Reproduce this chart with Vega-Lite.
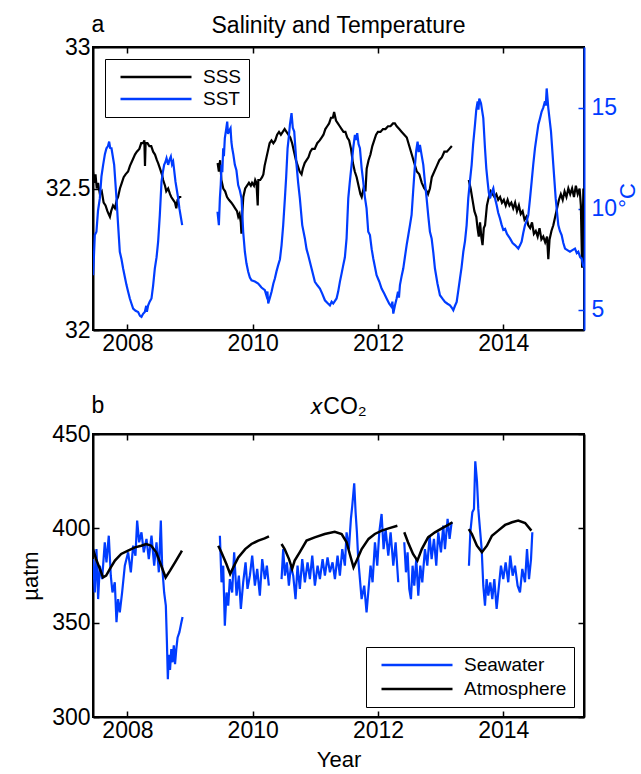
{
  "$schema": "https://vega.github.io/schema/vega-lite/v6.json",
  "background": "white",
  "padding": {"left": 18, "top": 12, "right": 5, "bottom": 0},
  "config": {
    "font": "Liberation Sans",
    "view": {"stroke": "black", "strokeWidth": 2},
    "axis": {"labelFont": "Liberation Sans", "labelFontSize": 23, "labelColor": "black", "domainColor": "black", "domainWidth": 2, "tickColor": "black", "tickWidth": 1.5, "tickSize": -6, "grid": false, "titleFont": "Liberation Sans", "titleFontSize": 22, "titleFontWeight": "normal", "titleColor": "black", "labelPadding": 8},
    "title": {"font": "Liberation Sans", "fontSize": 23, "fontWeight": "normal", "color": "black"},
    "legend": {"labelFont": "Liberation Sans", "labelFontSize": 19, "labelColor": "black"},
    "concat": {"spacing": 37}
  },
  "datasets": {
    "sss": [
      {"g":1,"t":2007.45,"v":32.56},{"g":1,"t":2007.47,"v":32.52},{"g":1,"t":2007.49,"v":32.55},{"g":1,"t":2007.51,"v":32.50},{"g":1,"t":2007.53,"v":32.52},{"g":1,"t":2007.56,"v":32.48},{"g":1,"t":2007.59,"v":32.49},{"g":1,"t":2007.62,"v":32.45},{"g":1,"t":2007.65,"v":32.44},{"g":1,"t":2007.68,"v":32.42},{"g":1,"t":2007.70,"v":32.41},{"g":1,"t":2007.72,"v":32.40},{"g":1,"t":2007.74,"v":32.42},{"g":1,"t":2007.77,"v":32.44},{"g":1,"t":2007.80,"v":32.43},{"g":1,"t":2007.83,"v":32.46},{"g":1,"t":2007.85,"v":32.47},{"g":1,"t":2007.88,"v":32.50},{"g":1,"t":2007.91,"v":32.52},{"g":1,"t":2007.94,"v":32.54},{"g":1,"t":2007.97,"v":32.55},{"g":1,"t":2008.01,"v":32.56},{"g":1,"t":2008.04,"v":32.58},{"g":1,"t":2008.08,"v":32.60},{"g":1,"t":2008.12,"v":32.62},{"g":1,"t":2008.15,"v":32.63},{"g":1,"t":2008.19,"v":32.64},{"g":1,"t":2008.22,"v":32.66},{"g":1,"t":2008.25,"v":32.66},{"g":1,"t":2008.27,"v":32.67},{"g":1,"t":2008.28,"v":32.58},{"g":1,"t":2008.29,"v":32.66},{"g":1,"t":2008.32,"v":32.66},{"g":1,"t":2008.35,"v":32.65},{"g":1,"t":2008.38,"v":32.65},{"g":1,"t":2008.41,"v":32.63},{"g":1,"t":2008.44,"v":32.62},{"g":1,"t":2008.47,"v":32.60},{"g":1,"t":2008.49,"v":32.59},{"g":1,"t":2008.52,"v":32.57},{"g":1,"t":2008.55,"v":32.55},{"g":1,"t":2008.57,"v":32.53},{"g":1,"t":2008.60,"v":32.51},{"g":1,"t":2008.62,"v":32.49},{"g":1,"t":2008.65,"v":32.50},{"g":1,"t":2008.68,"v":32.48},{"g":1,"t":2008.70,"v":32.47},{"g":1,"t":2008.73,"v":32.46},{"g":1,"t":2008.76,"v":32.45},{"g":1,"t":2008.78,"v":32.43},{"g":1,"t":2008.80,"v":32.46},{"g":1,"t":2008.83,"v":32.47},{"g":1,"t":2008.86,"v":32.47},
      {"g":2,"t":2009.44,"v":32.59},{"g":2,"t":2009.46,"v":32.56},{"g":2,"t":2009.48,"v":32.60},{"g":2,"t":2009.50,"v":32.53},{"g":2,"t":2009.53,"v":32.50},{"g":2,"t":2009.56,"v":32.49},{"g":2,"t":2009.59,"v":32.47},{"g":2,"t":2009.62,"v":32.46},{"g":2,"t":2009.66,"v":32.45},{"g":2,"t":2009.69,"v":32.44},{"g":2,"t":2009.72,"v":32.43},{"g":2,"t":2009.75,"v":32.42},{"g":2,"t":2009.77,"v":32.40},{"g":2,"t":2009.79,"v":32.41},{"g":2,"t":2009.81,"v":32.38},{"g":2,"t":2009.82,"v":32.34},{"g":2,"t":2009.83,"v":32.40},{"g":2,"t":2009.85,"v":32.47},{"g":2,"t":2009.88,"v":32.50},{"g":2,"t":2009.91,"v":32.51},{"g":2,"t":2009.94,"v":32.52},{"g":2,"t":2009.97,"v":32.51},{"g":2,"t":2009.99,"v":32.52},{"g":2,"t":2010.02,"v":32.51},{"g":2,"t":2010.04,"v":32.53},{"g":2,"t":2010.06,"v":32.52},{"g":2,"t":2010.08,"v":32.44},{"g":2,"t":2010.09,"v":32.53},{"g":2,"t":2010.12,"v":32.53},{"g":2,"t":2010.15,"v":32.54},{"g":2,"t":2010.17,"v":32.55},{"g":2,"t":2010.19,"v":32.58},{"g":2,"t":2010.22,"v":32.61},{"g":2,"t":2010.25,"v":32.64},{"g":2,"t":2010.27,"v":32.66},{"g":2,"t":2010.30,"v":32.67},{"g":2,"t":2010.33,"v":32.66},{"g":2,"t":2010.36,"v":32.67},{"g":2,"t":2010.39,"v":32.69},{"g":2,"t":2010.42,"v":32.70},{"g":2,"t":2010.45,"v":32.69},{"g":2,"t":2010.48,"v":32.70},{"g":2,"t":2010.51,"v":32.71},{"g":2,"t":2010.54,"v":32.70},{"g":2,"t":2010.57,"v":32.69},{"g":2,"t":2010.60,"v":32.68},{"g":2,"t":2010.63,"v":32.66},{"g":2,"t":2010.66,"v":32.63},{"g":2,"t":2010.69,"v":32.60},{"g":2,"t":2010.72,"v":32.58},{"g":2,"t":2010.75,"v":32.56},{"g":2,"t":2010.78,"v":32.55},{"g":2,"t":2010.80,"v":32.57},{"g":2,"t":2010.83,"v":32.59},{"g":2,"t":2010.86,"v":32.60},{"g":2,"t":2010.89,"v":32.61},{"g":2,"t":2010.92,"v":32.63},{"g":2,"t":2010.95,"v":32.64},{"g":2,"t":2010.99,"v":32.64},{"g":2,"t":2011.03,"v":32.66},{"g":2,"t":2011.07,"v":32.67},{"g":2,"t":2011.10,"v":32.68},{"g":2,"t":2011.13,"v":32.69},{"g":2,"t":2011.16,"v":32.71},{"g":2,"t":2011.19,"v":32.72},{"g":2,"t":2011.22,"v":32.73},{"g":2,"t":2011.25,"v":32.75},{"g":2,"t":2011.28,"v":32.75},{"g":2,"t":2011.30,"v":32.77},{"g":2,"t":2011.33,"v":32.74},{"g":2,"t":2011.36,"v":32.73},{"g":2,"t":2011.39,"v":32.72},{"g":2,"t":2011.42,"v":32.71},{"g":2,"t":2011.45,"v":32.70},{"g":2,"t":2011.48,"v":32.70},{"g":2,"t":2011.51,"v":32.68},{"g":2,"t":2011.54,"v":32.67},{"g":2,"t":2011.57,"v":32.64},{"g":2,"t":2011.60,"v":32.59},{"g":2,"t":2011.63,"v":32.56},{"g":2,"t":2011.66,"v":32.54},{"g":2,"t":2011.69,"v":32.51},{"g":2,"t":2011.72,"v":32.48},{"g":2,"t":2011.74,"v":32.47},{"g":2,"t":2011.76,"v":32.49},{"g":2,"t":2011.78,"v":32.51},{"g":2,"t":2011.80,"v":32.49},{"g":2,"t":2011.82,"v":32.57},{"g":2,"t":2011.85,"v":32.60},{"g":2,"t":2011.88,"v":32.62},{"g":2,"t":2011.91,"v":32.65},{"g":2,"t":2011.94,"v":32.67},{"g":2,"t":2011.97,"v":32.69},{"g":2,"t":2012.00,"v":32.70},{"g":2,"t":2012.04,"v":32.70},{"g":2,"t":2012.08,"v":32.71},{"g":2,"t":2012.12,"v":32.71},{"g":2,"t":2012.16,"v":32.72},{"g":2,"t":2012.20,"v":32.72},{"g":2,"t":2012.24,"v":32.73},{"g":2,"t":2012.27,"v":32.73},{"g":2,"t":2012.30,"v":32.72},{"g":2,"t":2012.34,"v":32.71},{"g":2,"t":2012.38,"v":32.70},{"g":2,"t":2012.42,"v":32.69},{"g":2,"t":2012.46,"v":32.68},{"g":2,"t":2012.50,"v":32.65},{"g":2,"t":2012.54,"v":32.62},{"g":2,"t":2012.58,"v":32.59},{"g":2,"t":2012.62,"v":32.56},{"g":2,"t":2012.66,"v":32.55},{"g":2,"t":2012.70,"v":32.52},{"g":2,"t":2012.74,"v":32.50},{"g":2,"t":2012.78,"v":32.49},{"g":2,"t":2012.80,"v":32.48},{"g":2,"t":2012.83,"v":32.50},{"g":2,"t":2012.86,"v":32.54},{"g":2,"t":2012.90,"v":32.56},{"g":2,"t":2012.94,"v":32.58},{"g":2,"t":2012.98,"v":32.60},{"g":2,"t":2013.02,"v":32.61},{"g":2,"t":2013.06,"v":32.63},{"g":2,"t":2013.10,"v":32.63},{"g":2,"t":2013.14,"v":32.64},{"g":2,"t":2013.18,"v":32.65},
      {"g":3,"t":2013.45,"v":32.53},{"g":3,"t":2013.48,"v":32.50},{"g":3,"t":2013.51,"v":32.46},{"g":3,"t":2013.54,"v":32.42},{"g":3,"t":2013.57,"v":32.40},{"g":3,"t":2013.59,"v":32.36},{"g":3,"t":2013.61,"v":32.33},{"g":3,"t":2013.63,"v":32.38},{"g":3,"t":2013.65,"v":32.33},{"g":3,"t":2013.67,"v":32.30},{"g":3,"t":2013.69,"v":32.36},{"g":3,"t":2013.71,"v":32.37},{"g":3,"t":2013.74,"v":32.44},{"g":3,"t":2013.77,"v":32.47},{"g":3,"t":2013.80,"v":32.49},{"g":3,"t":2013.83,"v":32.48},{"g":3,"t":2013.86,"v":32.47},{"g":3,"t":2013.89,"v":32.48},{"g":3,"t":2013.92,"v":32.46},{"g":3,"t":2013.95,"v":32.47},{"g":3,"t":2013.98,"v":32.45},{"g":3,"t":2014.01,"v":32.46},{"g":3,"t":2014.04,"v":32.44},{"g":3,"t":2014.07,"v":32.46},{"g":3,"t":2014.10,"v":32.44},{"g":3,"t":2014.13,"v":32.45},{"g":3,"t":2014.16,"v":32.43},{"g":3,"t":2014.19,"v":32.45},{"g":3,"t":2014.22,"v":32.42},{"g":3,"t":2014.25,"v":32.44},{"g":3,"t":2014.28,"v":32.41},{"g":3,"t":2014.31,"v":32.42},{"g":3,"t":2014.34,"v":32.39},{"g":3,"t":2014.37,"v":32.40},{"g":3,"t":2014.40,"v":32.37},{"g":3,"t":2014.43,"v":32.36},{"g":3,"t":2014.46,"v":32.38},{"g":3,"t":2014.49,"v":32.34},{"g":3,"t":2014.52,"v":32.35},{"g":3,"t":2014.55,"v":32.33},{"g":3,"t":2014.58,"v":32.36},{"g":3,"t":2014.61,"v":32.32},{"g":3,"t":2014.64,"v":32.33},{"g":3,"t":2014.67,"v":32.31},{"g":3,"t":2014.70,"v":32.33},{"g":3,"t":2014.72,"v":32.25},{"g":3,"t":2014.74,"v":32.32},{"g":3,"t":2014.77,"v":32.35},{"g":3,"t":2014.80,"v":32.37},{"g":3,"t":2014.83,"v":32.40},{"g":3,"t":2014.86,"v":32.43},{"g":3,"t":2014.89,"v":32.46},{"g":3,"t":2014.92,"v":32.48},{"g":3,"t":2014.95,"v":32.46},{"g":3,"t":2014.98,"v":32.49},{"g":3,"t":2015.01,"v":32.47},{"g":3,"t":2015.04,"v":32.50},{"g":3,"t":2015.07,"v":32.48},{"g":3,"t":2015.10,"v":32.50},{"g":3,"t":2015.13,"v":32.47},{"g":3,"t":2015.16,"v":32.51},{"g":3,"t":2015.19,"v":32.48},{"g":3,"t":2015.22,"v":32.50},{"g":3,"t":2015.24,"v":32.44},{"g":3,"t":2015.26,"v":32.22},{"g":3,"t":2015.28,"v":32.50},{"g":3,"t":2015.29,"v":32.47}
    ],
    "sst": [
      {"g":1,"t":2007.452,"v":6.71},{"g":1,"t":2007.479,"v":8.70},{"g":1,"t":2007.505,"v":8.86},{"g":1,"t":2007.530,"v":9.9},{"g":1,"t":2007.559,"v":10.51},{"g":1,"t":2007.585,"v":11.6},{"g":1,"t":2007.612,"v":12.17},{"g":1,"t":2007.640,"v":12.7},{"g":1,"t":2007.665,"v":12.99},{"g":1,"t":2007.690,"v":13.1},{"g":1,"t":2007.708,"v":13.32},{"g":1,"t":2007.725,"v":13.0},{"g":1,"t":2007.745,"v":12.99},{"g":1,"t":2007.788,"v":12.17},{"g":1,"t":2007.825,"v":10.51},{"g":1,"t":2007.851,"v":9.19},{"g":1,"t":2007.878,"v":7.87},{"g":1,"t":2007.905,"v":7.5},{"g":1,"t":2007.931,"v":7.04},{"g":1,"t":2007.960,"v":6.6},{"g":1,"t":2007.985,"v":6.22},{"g":1,"t":2008.010,"v":5.9},{"g":1,"t":2008.038,"v":5.56},{"g":1,"t":2008.065,"v":5.3},{"g":1,"t":2008.091,"v":5.06},{"g":1,"t":2008.130,"v":4.95},{"g":1,"t":2008.171,"v":4.89},{"g":1,"t":2008.200,"v":4.7},{"g":1,"t":2008.224,"v":4.65},{"g":1,"t":2008.250,"v":4.8},{"g":1,"t":2008.277,"v":4.89},{"g":1,"t":2008.300,"v":5.2},{"g":1,"t":2008.310,"v":4.9},{"g":1,"t":2008.331,"v":5.22},{"g":1,"t":2008.355,"v":5.4},{"g":1,"t":2008.384,"v":5.56},{"g":1,"t":2008.410,"v":6.2},{"g":1,"t":2008.437,"v":7.04},{"g":1,"t":2008.465,"v":7.6},{"g":1,"t":2008.490,"v":8.37},{"g":1,"t":2008.517,"v":9.69},{"g":1,"t":2008.544,"v":11.34},{"g":1,"t":2008.565,"v":11.8},{"g":1,"t":2008.586,"v":12.17},{"g":1,"t":2008.605,"v":12.3},{"g":1,"t":2008.624,"v":12.50},{"g":1,"t":2008.650,"v":12.17},{"g":1,"t":2008.670,"v":12.4},{"g":1,"t":2008.693,"v":12.58},{"g":1,"t":2008.712,"v":12.2},{"g":1,"t":2008.730,"v":12.33},{"g":1,"t":2008.750,"v":11.8},{"g":1,"t":2008.767,"v":11.34},{"g":1,"t":2008.790,"v":10.9},{"g":1,"t":2008.810,"v":10.51},{"g":1,"t":2008.830,"v":10.0},{"g":1,"t":2008.847,"v":9.69},{"g":1,"t":2008.874,"v":9.19},
      {"g":2,"t":2009.438,"v":9.85},{"g":2,"t":2009.460,"v":9.19},{"g":2,"t":2009.476,"v":10.51},{"g":2,"t":2009.490,"v":11.2},{"g":2,"t":2009.502,"v":12.17},{"g":2,"t":2009.515,"v":11.8},{"g":2,"t":2009.529,"v":12.99},{"g":2,"t":2009.540,"v":12.6},{"g":2,"t":2009.555,"v":13.49},{"g":2,"t":2009.575,"v":13.9},{"g":2,"t":2009.593,"v":14.31},{"g":2,"t":2009.606,"v":13.7},{"g":2,"t":2009.619,"v":13.82},{"g":2,"t":2009.646,"v":13.98},{"g":2,"t":2009.660,"v":13.3},{"g":2,"t":2009.673,"v":12.99},{"g":2,"t":2009.690,"v":12.7},{"g":2,"t":2009.715,"v":12.17},{"g":2,"t":2009.740,"v":11.9},{"g":2,"t":2009.768,"v":11.17},{"g":2,"t":2009.795,"v":10.9},{"g":2,"t":2009.822,"v":10.51},{"g":2,"t":2009.848,"v":8.86},{"g":2,"t":2009.875,"v":7.87},{"g":2,"t":2009.900,"v":7.3},{"g":2,"t":2009.928,"v":6.88},{"g":2,"t":2009.955,"v":6.6},{"g":2,"t":2009.981,"v":6.46},{"g":2,"t":2010.035,"v":6.4},{"g":2,"t":2010.088,"v":6.30},{"g":2,"t":2010.140,"v":6.1},{"g":2,"t":2010.194,"v":5.97},{"g":2,"t":2010.220,"v":5.7},{"g":2,"t":2010.235,"v":5.9},{"g":2,"t":2010.248,"v":5.31},{"g":2,"t":2010.275,"v":5.6},{"g":2,"t":2010.301,"v":5.89},{"g":2,"t":2010.330,"v":6.3},{"g":2,"t":2010.354,"v":6.55},{"g":2,"t":2010.380,"v":6.9},{"g":2,"t":2010.407,"v":7.21},{"g":2,"t":2010.435,"v":7.5},{"g":2,"t":2010.461,"v":8.20},{"g":2,"t":2010.487,"v":9.19},{"g":2,"t":2010.514,"v":10.51},{"g":2,"t":2010.535,"v":11.6},{"g":2,"t":2010.557,"v":12.99},{"g":2,"t":2010.575,"v":13.5},{"g":2,"t":2010.594,"v":14.15},{"g":2,"t":2010.620,"v":14.73},{"g":2,"t":2010.640,"v":14.0},{"g":2,"t":2010.663,"v":13.82},{"g":2,"t":2010.700,"v":12.17},{"g":2,"t":2010.725,"v":11.3},{"g":2,"t":2010.753,"v":10.51},{"g":2,"t":2010.791,"v":9.19},{"g":2,"t":2010.833,"v":8.53},{"g":2,"t":2010.860,"v":8.0},{"g":2,"t":2010.887,"v":7.70},{"g":2,"t":2010.940,"v":7.04},{"g":2,"t":2010.993,"v":6.38},{"g":2,"t":2011.035,"v":6.2},{"g":2,"t":2011.073,"v":6.05},{"g":2,"t":2011.110,"v":5.8},{"g":2,"t":2011.153,"v":5.47},{"g":2,"t":2011.190,"v":5.35},{"g":2,"t":2011.233,"v":5.22},{"g":2,"t":2011.260,"v":5.4},{"g":2,"t":2011.286,"v":5.31},{"g":2,"t":2011.339,"v":5.56},{"g":2,"t":2011.365,"v":5.9},{"g":2,"t":2011.392,"v":6.38},{"g":2,"t":2011.420,"v":6.8},{"g":2,"t":2011.446,"v":7.21},{"g":2,"t":2011.472,"v":7.6},{"g":2,"t":2011.499,"v":8.53},{"g":2,"t":2011.526,"v":10.51},{"g":2,"t":2011.550,"v":11.3},{"g":2,"t":2011.579,"v":12.17},{"g":2,"t":2011.605,"v":13.0},{"g":2,"t":2011.632,"v":13.65},{"g":2,"t":2011.650,"v":13.4},{"g":2,"t":2011.669,"v":13.74},{"g":2,"t":2011.690,"v":13.2},{"g":2,"t":2011.712,"v":12.99},{"g":2,"t":2011.740,"v":12.0},{"g":2,"t":2011.765,"v":11.34},{"g":2,"t":2011.790,"v":10.6},{"g":2,"t":2011.818,"v":10.02},{"g":2,"t":2011.845,"v":8.86},{"g":2,"t":2011.872,"v":8.70},{"g":2,"t":2011.900,"v":8.0},{"g":2,"t":2011.925,"v":7.54},{"g":2,"t":2011.978,"v":6.71},{"g":2,"t":2012.020,"v":6.4},{"g":2,"t":2012.058,"v":6.05},{"g":2,"t":2012.100,"v":5.8},{"g":2,"t":2012.138,"v":5.56},{"g":2,"t":2012.180,"v":5.3},{"g":2,"t":2012.218,"v":5.14},{"g":2,"t":2012.230,"v":5.4},{"g":2,"t":2012.245,"v":4.81},{"g":2,"t":2012.270,"v":5.2},{"g":2,"t":2012.298,"v":5.56},{"g":2,"t":2012.320,"v":5.9},{"g":2,"t":2012.335,"v":5.6},{"g":2,"t":2012.351,"v":6.22},{"g":2,"t":2012.380,"v":6.7},{"g":2,"t":2012.404,"v":7.04},{"g":2,"t":2012.430,"v":7.6},{"g":2,"t":2012.458,"v":8.20},{"g":2,"t":2012.485,"v":8.7},{"g":2,"t":2012.511,"v":9.19},{"g":2,"t":2012.537,"v":9.69},{"g":2,"t":2012.565,"v":11.0},{"g":2,"t":2012.591,"v":12.17},{"g":2,"t":2012.612,"v":12.9},{"g":2,"t":2012.633,"v":13.32},{"g":2,"t":2012.650,"v":12.8},{"g":2,"t":2012.670,"v":13.16},{"g":2,"t":2012.700,"v":12.6},{"g":2,"t":2012.724,"v":12.17},{"g":2,"t":2012.750,"v":11.3},{"g":2,"t":2012.777,"v":10.51},{"g":2,"t":2012.805,"v":9.6},{"g":2,"t":2012.830,"v":8.86},{"g":2,"t":2012.857,"v":8.53},{"g":2,"t":2012.885,"v":7.8},{"g":2,"t":2012.910,"v":7.04},{"g":2,"t":2012.950,"v":6.3},{"g":2,"t":2012.990,"v":5.72},{"g":2,"t":2013.030,"v":5.55},{"g":2,"t":2013.070,"v":5.39},{"g":2,"t":2013.110,"v":5.3},{"g":2,"t":2013.150,"v":5.22},{"g":2,"t":2013.180,"v":5.1},{"g":2,"t":2013.203,"v":4.98},{"g":2,"t":2013.230,"v":5.2},{"g":2,"t":2013.257,"v":5.39},{"g":2,"t":2013.285,"v":6.0},{"g":2,"t":2013.310,"v":6.55},{"g":2,"t":2013.335,"v":7.1},{"g":2,"t":2013.363,"v":7.87},{"g":2,"t":2013.390,"v":8.4},{"g":2,"t":2013.416,"v":9.19},{"g":2,"t":2013.442,"v":10.51},{"g":2,"t":2013.470,"v":11.4},{"g":2,"t":2013.496,"v":12.17},{"g":2,"t":2013.520,"v":13.2},{"g":2,"t":2013.549,"v":14.15},{"g":2,"t":2013.570,"v":14.9},{"g":2,"t":2013.592,"v":15.31},{"g":2,"t":2013.605,"v":14.9},{"g":2,"t":2013.618,"v":15.45},{"g":2,"t":2013.645,"v":15.22},{"g":2,"t":2013.682,"v":14.48},{"g":2,"t":2013.709,"v":12.99},{"g":2,"t":2013.730,"v":12.0},{"g":2,"t":2013.751,"v":11.34},{"g":2,"t":2013.770,"v":10.8},{"g":2,"t":2013.789,"v":10.51},{"g":2,"t":2013.815,"v":10.8},{"g":2,"t":2013.842,"v":11.01},{"g":2,"t":2013.870,"v":10.5},{"g":2,"t":2013.895,"v":10.18},{"g":2,"t":2013.920,"v":9.8},{"g":2,"t":2013.948,"v":9.52},{"g":2,"t":2013.975,"v":9.2},{"g":2,"t":2014.001,"v":8.95},{"g":2,"t":2014.030,"v":9.0},{"g":2,"t":2014.060,"v":8.75},{"g":2,"t":2014.108,"v":8.53},{"g":2,"t":2014.150,"v":8.3},{"g":2,"t":2014.188,"v":8.20},{"g":2,"t":2014.241,"v":8.03},{"g":2,"t":2014.270,"v":8.2},{"g":2,"t":2014.294,"v":8.37},{"g":2,"t":2014.320,"v":8.8},{"g":2,"t":2014.348,"v":9.19},{"g":2,"t":2014.375,"v":9.4},{"g":2,"t":2014.401,"v":9.69},{"g":2,"t":2014.428,"v":10.5},{"g":2,"t":2014.454,"v":11.34},{"g":2,"t":2014.480,"v":12.2},{"g":2,"t":2014.507,"v":12.99},{"g":2,"t":2014.535,"v":13.6},{"g":2,"t":2014.561,"v":14.15},{"g":2,"t":2014.590,"v":14.5},{"g":2,"t":2014.614,"v":14.81},{"g":2,"t":2014.640,"v":15.0},{"g":2,"t":2014.667,"v":15.31},{"g":2,"t":2014.680,"v":15.1},{"g":2,"t":2014.694,"v":15.95},{"g":2,"t":2014.720,"v":14.98},{"g":2,"t":2014.763,"v":13.82},{"g":2,"t":2014.800,"v":12.17},{"g":2,"t":2014.838,"v":10.51},{"g":2,"t":2014.860,"v":9.8},{"g":2,"t":2014.880,"v":9.19},{"g":2,"t":2014.905,"v":8.9},{"g":2,"t":2014.933,"v":8.70},{"g":2,"t":2014.960,"v":8.3},{"g":2,"t":2014.987,"v":8.03},{"g":2,"t":2015.025,"v":7.95},{"g":2,"t":2015.066,"v":7.87},{"g":2,"t":2015.105,"v":7.95},{"g":2,"t":2015.146,"v":8.03},{"g":2,"t":2015.175,"v":7.8},{"g":2,"t":2015.199,"v":7.87},{"g":2,"t":2015.230,"v":7.6},{"g":2,"t":2015.253,"v":7.54},{"g":2,"t":2015.275,"v":7.2},{"g":2,"t":2015.290,"v":7.1}
    ],
    "sw": [
      {"g":1,"t":2007.452,"v":383.7},{"g":1,"t":2007.479,"v":366.0},{"g":1,"t":2007.505,"v":389.0},{"g":1,"t":2007.532,"v":362.5},{"g":1,"t":2007.559,"v":380.2},{"g":1,"t":2007.596,"v":373.1},{"g":1,"t":2007.638,"v":392.6},{"g":1,"t":2007.665,"v":382.0},{"g":1,"t":2007.702,"v":396.1},{"g":1,"t":2007.734,"v":374.9},{"g":1,"t":2007.761,"v":366.0},{"g":1,"t":2007.798,"v":371.4},{"g":1,"t":2007.825,"v":350.2},{"g":1,"t":2007.851,"v":362.5},{"g":1,"t":2007.878,"v":355.5},{"g":1,"t":2007.915,"v":366.0},{"g":1,"t":2007.958,"v":380.2},{"g":1,"t":2008.011,"v":387.3},{"g":1,"t":2008.054,"v":376.7},{"g":1,"t":2008.091,"v":390.8},{"g":1,"t":2008.128,"v":385.5},{"g":1,"t":2008.155,"v":404.1},{"g":1,"t":2008.187,"v":392.6},{"g":1,"t":2008.224,"v":397.9},{"g":1,"t":2008.261,"v":387.3},{"g":1,"t":2008.304,"v":394.4},{"g":1,"t":2008.341,"v":383.7},{"g":1,"t":2008.384,"v":396.1},{"g":1,"t":2008.427,"v":380.2},{"g":1,"t":2008.464,"v":392.6},{"g":1,"t":2008.501,"v":376.7},{"g":1,"t":2008.533,"v":404.1},{"g":1,"t":2008.554,"v":380.2},{"g":1,"t":2008.586,"v":366.0},{"g":1,"t":2008.613,"v":359.0},{"g":1,"t":2008.630,"v":340.0},{"g":1,"t":2008.645,"v":320.0},{"g":1,"t":2008.660,"v":333.0},{"g":1,"t":2008.680,"v":325.0},{"g":1,"t":2008.700,"v":336.0},{"g":1,"t":2008.720,"v":329.0},{"g":1,"t":2008.740,"v":338.0},{"g":1,"t":2008.760,"v":328.0},{"g":1,"t":2008.780,"v":336.0},{"g":1,"t":2008.800,"v":342.0},{"g":1,"t":2008.830,"v":345.0},{"g":1,"t":2008.860,"v":350.0},{"g":1,"t":2008.880,"v":353.0},
      {"g":2,"t":2009.476,"v":396.1},{"g":2,"t":2009.502,"v":371.4},{"g":2,"t":2009.529,"v":380.2},{"g":2,"t":2009.555,"v":348.4},{"g":2,"t":2009.582,"v":366.0},{"g":2,"t":2009.609,"v":359.0},{"g":2,"t":2009.635,"v":373.1},{"g":2,"t":2009.672,"v":366.0},{"g":2,"t":2009.704,"v":387.3},{"g":2,"t":2009.742,"v":364.3},{"g":2,"t":2009.779,"v":374.9},{"g":2,"t":2009.811,"v":357.3},{"g":2,"t":2009.848,"v":371.4},{"g":2,"t":2009.886,"v":382.0},{"g":2,"t":2009.917,"v":367.9},{"g":2,"t":2009.955,"v":374.9},{"g":2,"t":2009.992,"v":385.5},{"g":2,"t":2010.035,"v":369.6},{"g":2,"t":2010.072,"v":378.5},{"g":2,"t":2010.114,"v":364.3},{"g":2,"t":2010.152,"v":383.7},{"g":2,"t":2010.194,"v":373.1},{"g":2,"t":2010.226,"v":380.2},{"g":2,"t":2010.258,"v":369.6},
      {"g":3,"t":2010.461,"v":373.1},{"g":3,"t":2010.487,"v":389.0},{"g":3,"t":2010.514,"v":374.9},{"g":3,"t":2010.546,"v":382.0},{"g":3,"t":2010.578,"v":369.6},{"g":3,"t":2010.610,"v":380.2},{"g":3,"t":2010.647,"v":374.9},{"g":3,"t":2010.684,"v":362.5},{"g":3,"t":2010.716,"v":380.2},{"g":3,"t":2010.753,"v":367.9},{"g":3,"t":2010.791,"v":383.7},{"g":3,"t":2010.833,"v":371.4},{"g":3,"t":2010.876,"v":382.0},{"g":3,"t":2010.913,"v":373.1},{"g":3,"t":2010.951,"v":385.5},{"g":3,"t":2010.993,"v":369.6},{"g":3,"t":2011.036,"v":380.2},{"g":3,"t":2011.073,"v":373.1},{"g":3,"t":2011.116,"v":383.7},{"g":3,"t":2011.153,"v":374.9},{"g":3,"t":2011.195,"v":384.6},{"g":3,"t":2011.233,"v":376.7},{"g":3,"t":2011.275,"v":382.0},{"g":3,"t":2011.313,"v":373.1},{"g":3,"t":2011.355,"v":385.5},{"g":3,"t":2011.392,"v":374.9},{"g":3,"t":2011.430,"v":389.0},{"g":3,"t":2011.472,"v":380.2},{"g":3,"t":2011.499,"v":397.9},{"g":3,"t":2011.536,"v":389.0},{"g":3,"t":2011.568,"v":405.0},{"g":3,"t":2011.590,"v":412.0},{"g":3,"t":2011.621,"v":423.9},{"g":3,"t":2011.643,"v":408.5},{"g":3,"t":2011.664,"v":397.9},{"g":3,"t":2011.685,"v":383.7},{"g":3,"t":2011.712,"v":373.1},{"g":3,"t":2011.739,"v":362.5},{"g":3,"t":2011.781,"v":369.6},{"g":3,"t":2011.818,"v":355.5},{"g":3,"t":2011.845,"v":366.0},{"g":3,"t":2011.882,"v":380.2},{"g":3,"t":2011.914,"v":371.4},{"g":3,"t":2011.952,"v":392.6},{"g":3,"t":2011.989,"v":380.2},{"g":3,"t":2012.021,"v":397.9},{"g":3,"t":2012.058,"v":407.6},{"g":3,"t":2012.090,"v":389.0},{"g":3,"t":2012.122,"v":399.6},{"g":3,"t":2012.165,"v":385.5},{"g":3,"t":2012.202,"v":397.9},{"g":3,"t":2012.245,"v":380.2},{"g":3,"t":2012.282,"v":392.6},{"g":3,"t":2012.324,"v":371.4},
      {"g":4,"t":2012.420,"v":392.6},{"g":4,"t":2012.447,"v":376.7},{"g":4,"t":2012.473,"v":387.3},{"g":4,"t":2012.500,"v":367.9},{"g":4,"t":2012.527,"v":362.5},{"g":4,"t":2012.553,"v":380.2},{"g":4,"t":2012.580,"v":369.6},{"g":4,"t":2012.612,"v":383.7},{"g":4,"t":2012.644,"v":364.3},{"g":4,"t":2012.676,"v":380.2},{"g":4,"t":2012.708,"v":371.4},{"g":4,"t":2012.750,"v":389.0},{"g":4,"t":2012.788,"v":380.2},{"g":4,"t":2012.825,"v":396.1},{"g":4,"t":2012.857,"v":383.7},{"g":4,"t":2012.894,"v":394.4},{"g":4,"t":2012.931,"v":380.2},{"g":4,"t":2012.963,"v":397.9},{"g":4,"t":2013.006,"v":387.3},{"g":4,"t":2013.043,"v":401.4},{"g":4,"t":2013.070,"v":389.0},{"g":4,"t":2013.112,"v":405.0},{"g":4,"t":2013.144,"v":394.4},{"g":4,"t":2013.176,"v":403.2},
      {"g":5,"t":2013.453,"v":380.2},{"g":5,"t":2013.475,"v":397.9},{"g":5,"t":2013.507,"v":408.5},{"g":5,"t":2013.533,"v":410.3},{"g":5,"t":2013.554,"v":435.5},{"g":5,"t":2013.581,"v":425.0},{"g":5,"t":2013.602,"v":410.3},{"g":5,"t":2013.629,"v":399.6},{"g":5,"t":2013.656,"v":389.0},{"g":5,"t":2013.682,"v":369.6},{"g":5,"t":2013.709,"v":359.0},{"g":5,"t":2013.735,"v":373.1},{"g":5,"t":2013.762,"v":364.3},{"g":5,"t":2013.794,"v":371.4},{"g":5,"t":2013.826,"v":362.5},{"g":5,"t":2013.858,"v":373.1},{"g":5,"t":2013.895,"v":357.3},{"g":5,"t":2013.932,"v":369.6},{"g":5,"t":2013.964,"v":380.2},{"g":5,"t":2014.001,"v":373.1},{"g":5,"t":2014.039,"v":382.0},{"g":5,"t":2014.081,"v":371.4},{"g":5,"t":2014.113,"v":385.5},{"g":5,"t":2014.151,"v":374.9},{"g":5,"t":2014.188,"v":380.2},{"g":5,"t":2014.230,"v":369.6},{"g":5,"t":2014.268,"v":366.0},{"g":5,"t":2014.305,"v":378.5},{"g":5,"t":2014.348,"v":371.4},{"g":5,"t":2014.380,"v":389.0},{"g":5,"t":2014.412,"v":373.1},{"g":5,"t":2014.444,"v":383.7},{"g":5,"t":2014.465,"v":397.9}
    ],
    "atm": [
      {"g":1,"t":2007.45,"v":389.0},{"g":1,"t":2007.50,"v":383.7},{"g":1,"t":2007.56,"v":378.5},{"g":1,"t":2007.61,"v":374.0},{"g":1,"t":2007.66,"v":375.0},{"g":1,"t":2007.72,"v":378.5},{"g":1,"t":2007.80,"v":382.9},{"g":1,"t":2007.90,"v":386.4},{"g":1,"t":2008.01,"v":388.2},{"g":1,"t":2008.12,"v":389.9},{"g":1,"t":2008.22,"v":390.8},{"g":1,"t":2008.30,"v":391.7},{"g":1,"t":2008.38,"v":390.8},{"g":1,"t":2008.46,"v":387.3},{"g":1,"t":2008.54,"v":380.2},{"g":1,"t":2008.61,"v":374.0},{"g":1,"t":2008.68,"v":377.6},{"g":1,"t":2008.76,"v":382.0},{"g":1,"t":2008.84,"v":386.4},{"g":1,"t":2008.87,"v":388.2},
      {"g":2,"t":2009.45,"v":390.8},{"g":2,"t":2009.50,"v":387.3},{"g":2,"t":2009.58,"v":381.1},{"g":2,"t":2009.64,"v":375.8},{"g":2,"t":2009.69,"v":379.3},{"g":2,"t":2009.77,"v":384.6},{"g":2,"t":2009.88,"v":389.0},{"g":2,"t":2009.98,"v":391.7},{"g":2,"t":2010.09,"v":393.5},{"g":2,"t":2010.19,"v":394.7},{"g":2,"t":2010.26,"v":395.8},
      {"g":3,"t":2010.46,"v":391.7},{"g":3,"t":2010.51,"v":389.0},{"g":3,"t":2010.58,"v":383.7},{"g":3,"t":2010.63,"v":378.5},{"g":3,"t":2010.67,"v":382.9},{"g":3,"t":2010.75,"v":387.3},{"g":3,"t":2010.86,"v":393.5},{"g":3,"t":2010.99,"v":395.2},{"g":3,"t":2011.15,"v":397.0},{"g":3,"t":2011.31,"v":398.2},{"g":3,"t":2011.42,"v":397.0},{"g":3,"t":2011.50,"v":392.6},{"g":3,"t":2011.55,"v":386.4},{"g":3,"t":2011.61,"v":379.3},{"g":3,"t":2011.66,"v":382.9},{"g":3,"t":2011.74,"v":389.0},{"g":3,"t":2011.85,"v":394.4},{"g":3,"t":2011.95,"v":397.0},{"g":3,"t":2012.06,"v":398.8},{"g":3,"t":2012.17,"v":400.0},{"g":3,"t":2012.31,"v":401.4},
      {"g":4,"t":2012.42,"v":397.9},{"g":4,"t":2012.48,"v":392.6},{"g":4,"t":2012.56,"v":386.4},{"g":4,"t":2012.63,"v":382.9},{"g":4,"t":2012.70,"v":389.0},{"g":4,"t":2012.80,"v":395.2},{"g":4,"t":2012.91,"v":397.9},{"g":4,"t":2013.02,"v":400.0},{"g":4,"t":2013.12,"v":401.8},{"g":4,"t":2013.19,"v":403.2},
      {"g":5,"t":2013.45,"v":399.6},{"g":5,"t":2013.50,"v":397.0},{"g":5,"t":2013.58,"v":390.8},{"g":5,"t":2013.66,"v":387.3},{"g":5,"t":2013.74,"v":390.8},{"g":5,"t":2013.82,"v":396.1},{"g":5,"t":2013.92,"v":398.8},{"g":5,"t":2014.03,"v":401.8},{"g":5,"t":2014.14,"v":403.2},{"g":5,"t":2014.24,"v":404.1},{"g":5,"t":2014.35,"v":402.8},{"g":5,"t":2014.45,"v":398.8}
    ]
  },
  "vconcat": [
    {
      "width": 491,
      "height": 283,
      "title": {"text": "Salinity and Temperature", "offset": -25},
      "layer": [
        {
          "data": {"name": "sss"},
          "mark": {"type": "line", "strokeWidth": 2.2, "clip": true},
          "encoding": {
            "x": {"field": "t", "type": "quantitative", "scale": {"domain": [2007.45, 2015.29], "nice": false, "zero": false}, "axis": {"values": [2008, 2010, 2012, 2014], "format": "d", "title": null}},
            "y": {"field": "v", "type": "quantitative", "scale": {"domain": [32, 33], "nice": false, "zero": false}, "axis": {"values": [32, 32.5, 33], "format": "~g", "title": null, "labelPadding": 9}},
            "detail": {"field": "g", "type": "nominal"},
            "color": {"datum": "SSS", "type": "nominal", "scale": {"domain": ["SSS", "SST"], "range": ["black", "#003cff"]}, "legend": {"title": null, "orient": "top-left", "offset": 12, "symbolType": "stroke", "symbolSize": 5041, "symbolStrokeWidth": 2.5, "labelFontSize": 19, "labelOffset": 10, "strokeColor": "black", "fillColor": "white", "padding": 7, "symbolOffset": 7, "rowPadding": 0, "clipHeight": 22}}
          }
        },
        {
          "data": {"name": "sst"},
          "mark": {"type": "line", "strokeWidth": 2.2, "clip": true},
          "encoding": {
            "x": {"field": "t", "type": "quantitative", "scale": {"domain": [2007.45, 2015.29], "nice": false, "zero": false}, "axis": {"orient": "top", "values": [2008, 2010, 2012, 2014], "labels": false, "title": "a", "titleAnchor": "start", "titleAlign": "left", "titleBaseline": "alphabetic", "titleX": -2, "titleY": -16, "titleFontSize": 23}},
            "y": {"field": "v", "type": "quantitative", "scale": {"domain": [4, 18], "nice": false, "zero": false}, "axis": {"orient": "right", "values": [5, 10, 15], "title": "°C", "titleAngle": 270, "titleAlign": "center", "titleBaseline": "middle", "titleX": 43, "titleY": 148, "titleColor": "#003cff", "labelColor": "#003cff", "domainColor": "#003cff", "tickColor": "#003cff", "labelPadding": 13}},
            "detail": {"field": "g", "type": "nominal"},
            "color": {"datum": "SST", "type": "nominal"}
          }
        }
      ],
      "resolve": {"scale": {"y": "independent"}, "axis": {"x": "independent", "y": "independent"}}
    },
    {
      "width": 491,
      "height": 283,
      "title": {"text": "𝑥CO₂", "offset": -25},
      "layer": [
        {
          "data": {"name": "sw"},
          "mark": {"type": "line", "strokeWidth": 2.2, "clip": true},
          "encoding": {
            "x": {"field": "t", "type": "quantitative", "scale": {"domain": [2007.45, 2015.29], "nice": false, "zero": false}, "axis": {"values": [2008, 2010, 2012, 2014], "format": "d", "title": "Year", "titlePadding": 7}},
            "y": {"field": "v", "type": "quantitative", "scale": {"domain": [300, 450], "nice": false, "zero": false}, "axis": {"values": [300, 350, 400, 450], "title": "µatm", "labelPadding": 9, "titlePadding": 9}},
            "detail": {"field": "g", "type": "nominal"},
            "color": {"datum": "Seawater", "type": "nominal", "scale": {"domain": ["Seawater", "Atmosphere"], "range": ["#003cff", "black"]}, "legend": {"title": null, "orient": "bottom-right", "offset": 10, "symbolType": "stroke", "symbolSize": 5041, "symbolStrokeWidth": 2.5, "labelFontSize": 19, "labelOffset": 10, "strokeColor": "black", "fillColor": "white", "padding": 7, "symbolOffset": 7, "rowPadding": 2, "clipHeight": 22}}
          }
        },
        {
          "data": {"name": "atm"},
          "mark": {"type": "line", "strokeWidth": 2.5, "clip": true},
          "encoding": {
            "x": {"field": "t", "type": "quantitative", "scale": {"domain": [2007.45, 2015.29], "nice": false, "zero": false}, "axis": {"orient": "top", "values": [2008, 2010, 2012, 2014], "labels": false, "title": "b", "titleAnchor": "start", "titleAlign": "left", "titleBaseline": "alphabetic", "titleX": -2, "titleY": -22, "titleFontSize": 23}},
            "y": {"field": "v", "type": "quantitative", "scale": {"domain": [300, 450], "nice": false, "zero": false}, "axis": {"orient": "right", "values": [300, 350, 400, 450], "labels": false, "title": null}},
            "detail": {"field": "g", "type": "nominal"},
            "color": {"datum": "Atmosphere", "type": "nominal"}
          }
        }
      ],
      "resolve": {"axis": {"x": "independent", "y": "independent"}}
    }
  ],
  "resolve": {"scale": {"color": "independent"}}
}
